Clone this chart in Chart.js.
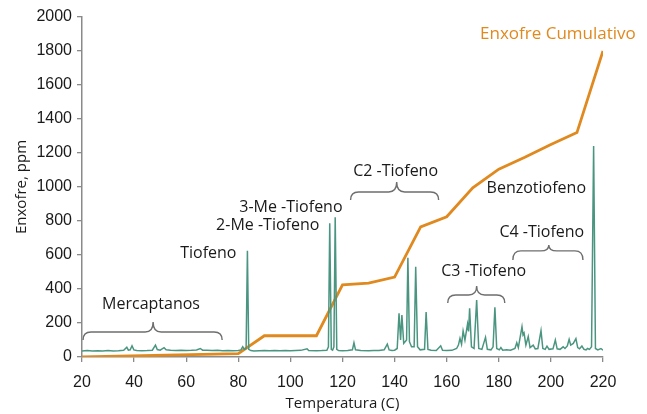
<!DOCTYPE html>
<html>
<head>
<meta charset="utf-8">
<script src="https://cdn.jsdelivr.net/npm/chart.js@4"></script>
<style>
  html, body { margin: 0; padding: 0; background: #fff; }
  #wrap { width: 647px; height: 414px; }
</style>
</head>
<body>
<div id="wrap"><canvas id="sulfurChart" width="647" height="414"></canvas></div>
<script>
// cumulative sulfur (orange)
const cumTemp = [20, 80, 90, 110, 120, 130, 140, 150, 160, 170, 180, 190, 200, 210, 220];
const cumSulfur = [0, 20, 125, 125, 425, 435, 470, 765, 825, 995, 1105, 1175, 1250, 1320, 1800];

// chromatogram trace (green)
const chromTemp = [
  20, 22, 24, 26, 28, 30, 32, 34, 36, 37.2, 37.8, 38.5, 39.2, 39.9, 41, 43, 45, 47, 48.2, 48.9,
  50, 51.5, 52.3, 54, 56, 58, 60, 62, 64, 65.4, 66.3, 68, 70, 72, 74, 76, 78, 80, 81, 81.7,
  82.3, 83, 83.5, 84, 84.8, 86, 88, 90, 92, 94, 96, 98, 100, 102, 104, 106.4, 107, 110, 112, 114,
  114.6, 115.1, 115.7, 116.2, 116.7, 117.2, 117.8, 118.5, 120, 122, 123.8, 124.4, 125, 127, 130, 132, 134, 136, 137.2, 137.9,
  139, 140, 141, 141.7, 142.3, 142.8, 143.5, 144.6, 145.1, 145.7, 146.5, 147.5, 148.1, 148.8, 149.8, 151.5, 152.1, 152.8, 154, 156,
  157.7, 158.4, 160, 162, 163.8, 164.5, 165.1, 165.7, 166.3, 167, 168, 168.4, 168.8, 169.5, 170.5, 171.5, 172.3, 173.5, 174.9, 175.6,
  177, 177.8, 178.5, 179.2, 180.2, 180.8, 181.5, 183, 184.5, 186.2, 186.9, 187.5, 188.9, 189.3, 189.7, 190.4, 191.3, 192, 193.2, 194,
  195, 196.2, 196.9, 197.8, 198.5, 199.3, 200.8, 201.7, 202.4, 203.5, 204.7, 205.4, 206.3, 207, 207.6, 208.6, 209.6, 210.3, 211, 211.9,
  212.7, 213.5, 214.1, 214.8, 215.6, 216.4, 217.1, 218, 219.2, 220
];
const chromSignal = [
  36, 38, 35, 37, 36, 38, 36, 37, 39, 57, 40, 42, 66, 42, 38, 37, 38, 40, 70, 44,
  40, 55, 42, 39, 38, 40, 38, 39, 41, 50, 40, 39, 38, 39, 37, 38, 37, 38, 42, 60,
  45, 50, 625, 45, 38, 36, 37, 38, 37, 38, 37, 38, 37, 38, 39, 48, 38, 37, 38, 40,
  60, 787, 45, 40, 60, 822, 45, 38, 37, 38, 42, 84, 42, 38, 37, 38, 38, 42, 76, 42,
  38, 40, 50, 257, 100, 247, 80, 100, 584, 90, 60, 60, 531, 60, 42, 45, 265, 45, 40, 38,
  66, 40, 38, 39, 50, 70, 110, 75, 153, 100, 194, 150, 286, 60, 50, 335, 50, 45, 116, 45,
  42, 60, 292, 50, 42, 55, 40, 42, 40, 50, 84, 55, 178, 130, 141, 70, 120, 55, 70, 48,
  50, 155, 50, 45, 64, 45, 48, 100, 48, 45, 60, 50, 65, 104, 70, 80, 108, 55, 48, 64,
  45, 42, 50, 45, 60, 1241, 50, 42, 50, 40
];

const xTicks = [20, 40, 60, 80, 100, 120, 140, 160, 180, 200, 220];

// bracket groups: [label, fromTemp, toTemp, peakTemp, tipY, barY, topY, labelTemp, labelY]
const groups = [
  ['Mercaptanos', 20.4, 73.8, 47.3, 100, 147, 206, 46.5, 312],
  ['C2 -Tiofeno', 123.1, 156.9, 140.8, 924, 971, 1029, 140.4, 1094],
  ['C3 -Tiofeno', 160.4, 182.3, 171.5, 318, 365, 418, 174.2, 506],
  ['C4 -Tiofeno', 185.4, 212.3, 199.2, 571, 624, 659, 196.5, 735]
];
// plain peak labels: [label, temp, y]
const peakLabels = [
  ['Tiofeno', 68.5, 612],
  ['2-Me -Tiofeno', 91.3, 771],
  ['3-Me -Tiofeno', 100.2, 882],
  ['Benzotiofeno', 194.4, 994]
];

const GREEN = '#4a9580';
const ORANGE = '#e0891f';
const AXIS = '#8a8a8a';
const LABEL_FONT = '16px "Open Sans", sans-serif';

const annotations = {
  id: 'annotations',
  afterDatasetsDraw(chart) {
    const { ctx, scales: { x, y } } = chart;
    ctx.save();
    ctx.textAlign = 'center';
    ctx.textBaseline = 'middle';
    ctx.font = LABEL_FONT;
    ctx.fillStyle = '#1a1a1a';

    groups.forEach(g => {
      const x1 = x.getPixelForValue(g[1]);
      const x2 = x.getPixelForValue(g[2]);
      const xp = x.getPixelForValue(g[3]);
      const yTip = y.getPixelForValue(g[4]);
      const yBar = y.getPixelForValue(g[5]);
      const yTop = y.getPixelForValue(g[6]);
      const r = 8;
      ctx.strokeStyle = '#6e6e6e';
      ctx.lineWidth = 1.4;
      ctx.beginPath();
      ctx.moveTo(x1, yTip);
      ctx.quadraticCurveTo(x1, yBar, x1 + r, yBar);
      ctx.lineTo(xp - r, yBar);
      ctx.quadraticCurveTo(xp, yBar, xp, yTop);
      ctx.quadraticCurveTo(xp, yBar, xp + r, yBar);
      ctx.lineTo(x2 - r, yBar);
      ctx.quadraticCurveTo(x2, yBar, x2, yTip);
      ctx.stroke();
      ctx.fillText(g[0], x.getPixelForValue(g[7]), y.getPixelForValue(g[8]));
    });

    peakLabels.forEach(p => {
      ctx.fillText(p[0], x.getPixelForValue(p[1]), y.getPixelForValue(p[2]));
    });

    ctx.fillStyle = ORANGE;
    ctx.font = '17px "Open Sans", sans-serif';
    ctx.fillText('Enxofre Cumulativo', x.getPixelForValue(202.7), y.getPixelForValue(1900));
    ctx.restore();
  }
};

const canvas = document.getElementById('sulfurChart');
const ctx = canvas.getContext('2d');

new Chart(ctx, {
  type: 'line',
  data: {
    datasets: [
      {
        label: 'Cromatograma',
        data: chromTemp.map((t, i) => ({ x: t, y: chromSignal[i] })),
        borderColor: GREEN,
        borderWidth: 1.5,
        pointRadius: 0,
        tension: 0
      },
      {
        label: 'Enxofre Cumulativo',
        data: cumTemp.map((t, i) => ({ x: t, y: cumSulfur[i] })),
        borderColor: ORANGE,
        borderWidth: 2.8,
        pointRadius: 0,
        tension: 0
      }
    ]
  },
  options: {
    responsive: false,
    animation: false,
    layout: { padding: { left: 0, top: 17, right: 44, bottom: 0 } },
    plugins: {
      legend: { display: false },
      tooltip: { enabled: false }
    },
    scales: {
      x: {
        type: 'linear',
        min: 20,
        max: 220,
        afterBuildTicks: scale => { scale.ticks = xTicks.map(v => ({ value: v })); },
        afterFit: scale => { scale.height = 57; },
        grid: { drawOnChartArea: false, drawTicks: true, tickLength: 5, color: AXIS, lineWidth: 1.3 },
        border: { display: true, color: AXIS, width: 1.5 },
        ticks: {
          color: '#1a1a1a',
          padding: 11,
          callback: v => String(v),
          font: { family: '"Liberation Sans", Arial, sans-serif', size: 16 }
        },
        title: {
          display: true,
          text: 'Temperatura (C)',
          color: '#1a1a1a',
          padding: { top: 0, bottom: 1 },
          font: { family: '"Open Sans", sans-serif', size: 15 }
        }
      },
      y: {
        min: 0,
        max: 2000,
        afterFit: scale => { scale.width = 82; },
        grid: { drawOnChartArea: false, drawTicks: true, tickLength: 5, color: AXIS, lineWidth: 1.3 },
        border: { display: true, color: AXIS, width: 1.5 },
        ticks: {
          stepSize: 200,
          color: '#1a1a1a',
          padding: 5,
          callback: v => String(v),
          font: { family: '"Liberation Sans", Arial, sans-serif', size: 16 }
        },
        title: {
          display: true,
          text: 'Enxofre, ppm',
          color: '#1a1a1a',
          padding: { top: 13, bottom: 0 },
          font: { family: '"Open Sans", sans-serif', size: 15 }
        }
      }
    }
  },
  plugins: [annotations]
});
</script>
</body>
</html>
